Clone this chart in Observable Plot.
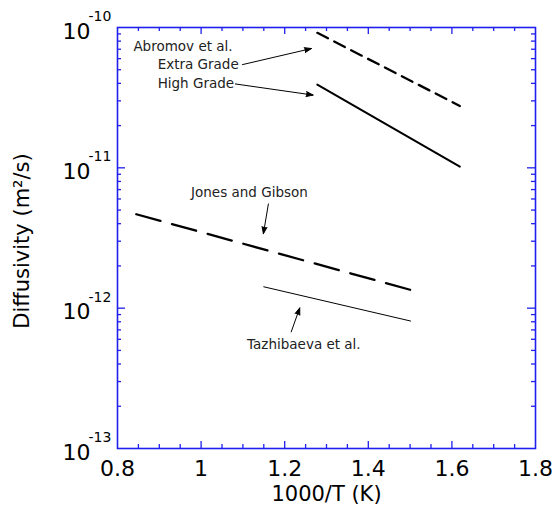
<!DOCTYPE html>
<html>
<head>
<meta charset="utf-8">
<script src="https://cdn.jsdelivr.net/npm/d3@7"></script>
<script src="https://cdn.jsdelivr.net/npm/@observablehq/plot@0.6"></script>
<style>
  html, body { margin: 0; padding: 0; background: #fff; }
  #chart svg { display: block; }
</style>
</head>
<body>
<div id="chart"></div>
<script>
// ---- data ----
const xTickLabels = [0.8, 1, 1.2, 1.4, 1.6, 1.8];
const yDecades = [1e-13, 1e-12, 1e-11, 1e-10];
const yExponents = ["-13", "-12", "-11", "-10"];

const extraGradeX = [1.278, 1.619];
const extraGradeY = [9.16e-11, 2.76e-11];
const highGradeX = [1.278, 1.619];
const highGradeY = [3.92e-11, 1.02e-11];
const jonesX = [0.845, 1.501];
const jonesY = [4.67e-12, 1.35e-12];
const tazX = [1.150, 1.501];
const tazY = [1.42e-12, 8.1e-13];

const labelTexts = ["Abromov et al.", "Extra Grade", "High Grade", "Jones and Gibson", "Tazhibaeva et al."];
const labelX = [0.838, 0.896, 0.896, 0.976, 1.110];
const labelY = [7.31e-11, 5.44e-11, 3.98e-11, 6.63e-12, 5.53e-13];

const arrowX1 = [1.099, 1.082, 1.161, 1.2156];
const arrowY1 = [5.44e-11, 3.96e-11, 5.53e-12, 6.78e-13];
const arrowX2 = [1.264, 1.268, 1.149, 1.236];
const arrowY2 = [7.08e-11, 3.30e-11, 3.39e-12, 1.005e-12];

const xTitle = "1000/T (K)";
const yTitle = "Diffusivity (m\u00B2/s)";

// ---- derived tables ----
const toPts = (xs, ys) => xs.map((x, i) => ({x, y: ys[i]}));
const labels = labelTexts.map((t, i) => ({t, x: labelX[i], y: labelY[i]}));
const arrows = arrowX1.map((x1, i) => ({x1, y1: arrowY1[i], x2: arrowX2[i], y2: arrowY2[i]}));
const yLab = yDecades.map((v, i) => ({v, e: yExponents[i]}));

const xMajor = xTickLabels.slice(1, -1);
const xMinor = d3.range(17, 36).map(k => k * 0.05).filter(v => !xMajor.some(m => Math.abs(m - v) < 1e-9) && v > 0.81 && v < 1.79);
const yMajor = yDecades.slice(1, -1);
const yMinor = [];
for (const d of yDecades.slice(0, -1)) for (let k = 2; k <= 9; k++) yMinor.push(d * k);

const W = 553, H = 508, mL = 117, mR = 18, mT = 27, mB = 60;
const fw = W - mL - mR, fh = H - mT - mB;
const blue = "#1f1fee";
const font = "DejaVu Sans, Verdana, sans-serif";

const chart = Plot.plot({
  width: W, height: H,
  marginLeft: mL, marginRight: mR, marginTop: mT, marginBottom: mB,
  style: {background: "#fff", fontFamily: font, color: "#000"},
  x: {domain: [0.8, 1.8], axis: null},
  y: {type: "log", domain: [1e-13, 1e-10], axis: null},
  marks: [
    // ticks (inward, all four sides)
    Plot.tickX(xMajor, {x: d => d, stroke: blue, strokeWidth: 1.3, insetTop: fh - 7}),
    Plot.tickX(xMinor, {x: d => d, stroke: blue, strokeWidth: 1.3, insetTop: fh - 4}),
    Plot.tickX(xMajor, {x: d => d, stroke: blue, strokeWidth: 1.3, insetBottom: fh - 7}),
    Plot.tickX(xMinor, {x: d => d, stroke: blue, strokeWidth: 1.3, insetBottom: fh - 4}),
    Plot.tickY(yMajor, {y: d => d, stroke: blue, strokeWidth: 1.3, insetRight: fw - 8}),
    Plot.tickY(yMinor, {y: d => d, stroke: blue, strokeWidth: 1.3, insetRight: fw - 4}),
    Plot.tickY(yMajor, {y: d => d, stroke: blue, strokeWidth: 1.3, insetLeft: fw - 8}),
    Plot.tickY(yMinor, {y: d => d, stroke: blue, strokeWidth: 1.3, insetLeft: fw - 4}),
    Plot.frame({stroke: blue, strokeWidth: 1.6}),

    // series
    Plot.line(toPts(extraGradeX, extraGradeY), {x: "x", y: "y", stroke: "#000", strokeWidth: 2.3, strokeDasharray: "12,7"}),
    Plot.line(toPts(highGradeX, highGradeY), {x: "x", y: "y", stroke: "#000", strokeWidth: 2}),
    Plot.line(toPts(jonesX, jonesY), {x: "x", y: "y", stroke: "#000", strokeWidth: 2.3, strokeDasharray: "25,12"}),
    Plot.line(toPts(tazX, tazY), {x: "x", y: "y", stroke: "#000", strokeWidth: 1}),

    // annotations
    Plot.arrow(arrows, {x1: "x1", y1: "y1", x2: "x2", y2: "y2", stroke: "#000", fill: "#000", strokeWidth: 1, headLength: 11, headAngle: 40}),
    Plot.text(labels, {x: "x", y: "y", text: "t", textAnchor: "start", lineAnchor: "middle", fontSize: 13.5, fill: "#222"}),

    // x tick labels
    Plot.text(xTickLabels, {x: d => d, frameAnchor: "bottom", text: d => String(d), dy: 20, lineAnchor: "middle", fontSize: 22, fill: "#000"}),
    // y tick labels: 10 with superscript exponent
    Plot.text(yLab, {y: "v", frameAnchor: "left", text: () => "10", dx: -27, dy: 4, textAnchor: "end", lineAnchor: "middle", fontSize: 22, fill: "#000"}),
    Plot.text(yLab, {y: "v", frameAnchor: "left", text: "e", dx: -29, dy: -11, textAnchor: "start", lineAnchor: "middle", fontSize: 14, fill: "#000"}),

    // axis titles
    Plot.text([xTitle], {frameAnchor: "bottom", text: d => d, dy: 46, textAnchor: "middle", lineAnchor: "middle", fontSize: 21, fill: "#000"}),
    Plot.text([yTitle], {frameAnchor: "left", text: d => d, dx: -95, dy: 3, rotate: -90, textAnchor: "middle", lineAnchor: "middle", fontSize: 21, fill: "#000"})
  ]
});
document.getElementById("chart").appendChild(chart);
</script>
</body>
</html>
